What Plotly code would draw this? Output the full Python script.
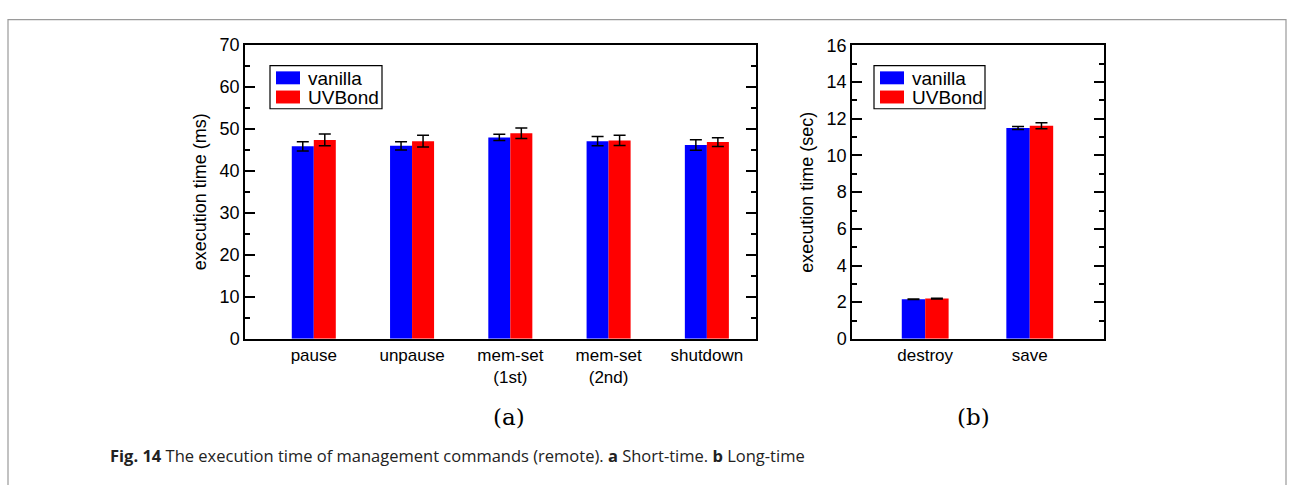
import plotly.graph_objects as go

# ---- data ----
short_cats = ["pause", "unpause", "mem-set<br>(1st)", "mem-set<br>(2nd)", "shutdown"]
short_vanilla = [45.8, 45.9, 47.9, 47.0, 46.1]
short_vanilla_err = [1.1, 1.0, 0.75, 1.1, 1.25]
short_uvbond = [47.3, 47.0, 48.9, 47.2, 46.8]
short_uvbond_err = [1.4, 1.4, 1.25, 1.2, 1.05]

long_cats = ["destroy", "save"]
long_vanilla = [2.16, 11.5]
long_vanilla_err = [0.02, 0.08]
long_uvbond = [2.2, 11.62]
long_uvbond_err = [0.02, 0.16]

series_names = ["vanilla", "UVBond"]
series_colors = ["#0000ff", "#ff0000"]

W, H = 1294, 485
FONT = "Liberation Sans, Arial, sans-serif"


def px(x):
    return x / W


def py(y):
    return 1 - y / H


fig = go.Figure()

xs_short = list(range(len(short_cats)))
xs_long = list(range(len(long_cats)))

for name, color, vals, errs in [
    (series_names[0], series_colors[0], short_vanilla, short_vanilla_err),
    (series_names[1], series_colors[1], short_uvbond, short_uvbond_err),
]:
    fig.add_trace(go.Bar(
        x=xs_short, y=vals, name=name, marker=dict(color=color, line=dict(width=0)),
        error_y=dict(type="data", array=errs, color="black", thickness=1.5, width=6),
        xaxis="x", yaxis="y", offsetgroup=name, showlegend=False,
    ))

for name, color, vals, errs in [
    (series_names[0], series_colors[0], long_vanilla, long_vanilla_err),
    (series_names[1], series_colors[1], long_uvbond, long_uvbond_err),
]:
    fig.add_trace(go.Bar(
        x=xs_long, y=vals, name=name, marker=dict(color=color, line=dict(width=0)),
        error_y=dict(type="data", array=errs, color="black", thickness=1.5, width=6),
        xaxis="x2", yaxis="y2", offsetgroup=name + "2", showlegend=False,
    ))

axis_common = dict(showline=True, linecolor="black", linewidth=1.5, mirror="ticks",
                   showgrid=False, zeroline=False,
                   tickfont=dict(family=FONT, size=18, color="black"))

fig.update_layout(
    width=W, height=H,
    margin=dict(l=0, r=0, t=0, b=0),
    paper_bgcolor="white", plot_bgcolor="white",
    barmode="group",
    bargap=0.552,
    bargroupgap=0,
    font=dict(family=FONT, color="black"),
    xaxis=dict(domain=[px(245), px(756)], anchor="y", range=[-0.7, 4.5],
               tickvals=xs_short, ticktext=short_cats, ticks="",
               showline=True, linecolor="black", linewidth=1.5, mirror=True,
               showgrid=False, zeroline=False,
               tickfont=dict(family=FONT, size=17, color="black")),
    yaxis=dict(domain=[py(343), py(36)], anchor="x", range=[0, 70], dtick=10,
               ticks="inside", ticklen=10, tickwidth=1.5, tickcolor="black",
               minor=dict(dtick=5, ticks="inside", ticklen=5, tickwidth=1.5, tickcolor="black"),
               title=dict(text="execution time (ms)", font=dict(family=FONT, size=18), standoff=8),
               **axis_common),
    xaxis2=dict(domain=[px(852), px(1104)], anchor="y2", range=[-0.7, 1.71],
                tickvals=xs_long, ticktext=long_cats, ticks="",
                showline=True, linecolor="black", linewidth=1.5, mirror=True,
                showgrid=False, zeroline=False,
                tickfont=dict(family=FONT, size=17, color="black")),
    yaxis2=dict(domain=[py(343), py(37)], anchor="x2", range=[0, 16], dtick=2,
                ticks="inside", ticklen=10, tickwidth=1.5, tickcolor="black",
                minor=dict(dtick=1, ticks="inside", ticklen=5, tickwidth=1.5, tickcolor="black"),
                title=dict(text="execution time (sec)", font=dict(family=FONT, size=18), standoff=8),
                **axis_common),
)

# ---- hand-drawn legends (xmgrace style: big swatches) ----
def add_legend(x0, box_w):
    fig.add_shape(type="rect", xref="paper", yref="paper",
                  x0=px(x0), x1=px(x0 + box_w), y0=py(103), y1=py(58),
                  line=dict(color="black", width=1.2), fillcolor="white")
    for i, (name, color) in enumerate(zip(series_names, series_colors)):
        top = 64 + 20 * i
        fig.add_shape(type="rect", xref="paper", yref="paper",
                      x0=px(x0 + 6), x1=px(x0 + 30), y0=py(top + 13.5), y1=py(top),
                      line=dict(width=0), fillcolor=color)
        fig.add_annotation(text=name, xref="paper", yref="paper",
                           x=px(x0 + 36), y=py(top + 7), xanchor="left", yanchor="middle",
                           showarrow=False, font=dict(family=FONT, size=19, color="black"))


add_legend(270, 112)
add_legend(874, 111)

# outer caption frame
fig.add_shape(type="rect", xref="paper", yref="paper",
              x0=px(8), x1=px(1286), y0=-0.1, y1=py(10),
              line=dict(color="#9a9a9a", width=1.2), fillcolor="rgba(0,0,0,0)", layer="below")

SERIF = "DejaVu Serif, Liberation Serif, serif"
fig.add_annotation(text="(a)", xref="paper", yref="paper", x=px(509), y=py(424),
                   xanchor="center", yanchor="middle",
                   showarrow=False, font=dict(family=SERIF, size=23, color="black"))
fig.add_annotation(text="(b)", xref="paper", yref="paper", x=px(973), y=py(424),
                   xanchor="center", yanchor="middle",
                   showarrow=False, font=dict(family=SERIF, size=23, color="black"))
fig.add_annotation(text="<b>Fig. 14</b> The execution time of management commands (remote). <b>a</b> Short-time. <b>b</b> Long-time",
                   xref="paper", yref="paper", x=px(108), y=py(465), xanchor="left", yanchor="middle",
                   showarrow=False, font=dict(family="Open Sans, Noto Sans, sans-serif", size=16.5, color="#222"))

fig.write_html("out.html", config={"displayModeBar": False},
               post_script="document.body.style.margin='0';document.body.style.overflow='hidden';")
